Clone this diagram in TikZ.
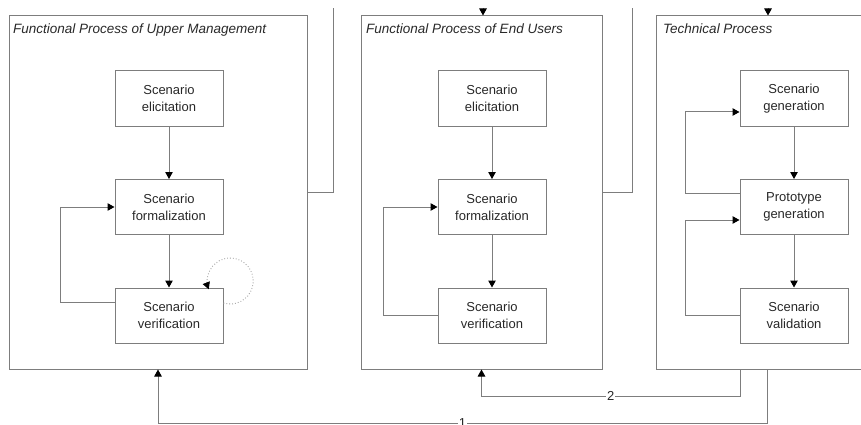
\documentclass[tikz,border=0pt]{standalone}
\usepackage{fontspec}
\setmainfont{Liberation Sans}
\usetikzlibrary{arrows.meta}
\definecolor{lineC}{RGB}{125,125,125}
\definecolor{dotC}{RGB}{165,165,165}
\definecolor{txtC}{RGB}{40,40,40}
\begin{document}
\begin{tikzpicture}[x=1pt,y=-1pt,
  line/.style={draw=lineC,line width=1pt},
  arr/.style={line,-{Triangle[length=7pt,width=7.5pt,black]}},
  outerbox/.style={draw=lineC,line width=1pt,minimum height=353pt,inner sep=0pt},
  stepbox/.style={draw=lineC,line width=1pt,minimum width=108pt,minimum height=55pt,
    align=center,font=\fontsize{13}{17}\selectfont,text=txtC,inner sep=0pt},
  ttl/.style={anchor=base west,font=\fontsize{13.5}{16}\selectfont\itshape,text=txtC,inner sep=0pt},
  lab/.style={fill=white,font=\fontsize{13}{15}\selectfont,text=txtC,inner sep=1pt}]
\useasboundingbox (0,0) rectangle (861,425);
\clip (0,0) rectangle (861,425);
% outer boxes
\node[outerbox,minimum width=298pt] (B1) at (158,192.5) {};
\node[outerbox,minimum width=241pt] (B2) at (481.5,192.5) {};
\node[outerbox,minimum width=224pt] (B3) at (768,192.5) {};
\node[ttl] (T1) at (13,33.5) {Functional Process of Upper Management};
\node[ttl] (T2) at (366,33.5) {Functional Process of End Users};
\node[ttl] (T3) at (663,33.5) {Technical Process};
% inner boxes
\node[stepbox] (e1) at (169,98.5) {Scenario\\elicitation};
\node[stepbox] (f1) at (169,207) {Scenario\\formalization};
\node[stepbox] (v1) at (169,315.5) {Scenario\\verification};
\node[stepbox] (e2) at (492,98.5) {Scenario\\elicitation};
\node[stepbox] (f2) at (492,207) {Scenario\\formalization};
\node[stepbox] (v2) at (492,315.5) {Scenario\\verification};
\node[stepbox] (g3) at (794,98.5) {Scenario\\generation};
\node[stepbox] (p3) at (794,207) {Prototype\\generation};
\node[stepbox] (s3) at (794,315.5) {Scenario\\validation};
% vertical flows
\draw[arr] (e1) -- (f1);
\draw[arr] (f1) -- (v1);
\draw[arr] (e2) -- (f2);
\draw[arr] (f2) -- (v2);
\draw[arr] (g3) -- (p3);
\draw[arr] (p3) -- (s3);
% feedback loops
\draw[arr] ([yshift=13.5pt]v1.west) -- ++(-54,0) |- (f1.west);
\draw[arr] (v2.west) -- ++(-54,0) |- (f2.west);
\draw[arr] ([yshift=14pt]p3.west) -- ++(-54,0) |- ([yshift=-13.5pt]g3.west);
\draw[arr] (s3.west) -- ++(-54,0) |- ([yshift=-13pt]p3.west);
% self loop
\draw[draw=dotC,line width=0.9pt,dotted,-{Triangle[length=7pt,width=7.5pt,black]}]
  ([yshift=12.5pt]v1.east) arc[start angle=-107,end angle=201,radius=23pt];
% top connectors
\coordinate (t1) at (333,8);
\coordinate (t2) at (632,8);
\coordinate (a2) at (483,8);
\coordinate (a3) at (768,8);
\draw[line] (B1.east) -| (t1);
\draw[line] (B2.east) -| (t2);
\draw[arr] (a2) -- (a2 |- B2.north);
\draw[arr] (a3) -- (a3 |- B3.north);
% bottom connectors
\coordinate (c2) at (740,396);
\coordinate (c1) at (767,423);
\draw[arr] (B3.south -| c2) -- (c2) -- node[lab] (L2) {2} (c2 -| B2.south) -- (B2.south);
\draw[arr] (B3.south -| c1) -- (c1) -- node[lab] (L1) {1} (c1 -| B1.south) -- (B1.south);
\end{tikzpicture}
\end{document}
